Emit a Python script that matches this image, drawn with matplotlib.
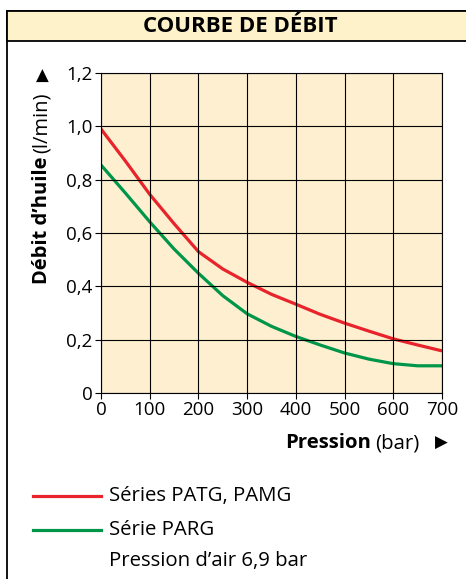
import numpy as np
import matplotlib
matplotlib.use('Agg')
import matplotlib.pyplot as plt
from matplotlib.patches import Rectangle

plt.rcParams['font.family'] = ['Open Sans', 'DejaVu Sans']

# ── Data ──────────────────────────────────────────────────
pression = [0, 50, 100, 150, 200, 250, 300, 350, 400, 450, 500, 550, 600, 650, 700]
debit_patg = [0.99, 0.87, 0.745, 0.635, 0.53, 0.465, 0.415, 0.37, 0.333, 0.295, 0.262, 0.232, 0.203, 0.18, 0.158]
debit_parg = [0.855, 0.75, 0.642, 0.54, 0.449, 0.365, 0.297, 0.25, 0.212, 0.18, 0.150, 0.127, 0.110, 0.102, 0.102]
x_ticks = [0, 100, 200, 300, 400, 500, 600, 700]
y_ticks = [0, 0.2, 0.4, 0.6, 0.8, 1.0, 1.2]
y_labels = ['0', '0,2', '0,4', '0,6', '0,8', '1,0', '1,2']

RED = '#E8232B'
GREEN = '#00964A'
BG = '#FDEFCF'
HEAD = '#FEF2CB'
FS = 14.7

W, H = 466, 579
fig = plt.figure(figsize=(W / 100, H / 100), dpi=100)

def fx(px):
    return px / W

def fy(py):
    return 1 - py / H

# outer frame + header band
fig.patches.append(Rectangle((fx(7), fy(600)), fx(470) - fx(7), fy(11) - fy(600),
                             transform=fig.transFigure, fill=False, ec='black', lw=1.3))
fig.patches.append(Rectangle((fx(7), fy(41)), fx(470) - fx(7), fy(11) - fy(41),
                             transform=fig.transFigure, fc=HEAD, ec='black', lw=1.3))
fig.text(fx(240), fy(27), 'COURBE DE DÉBIT', ha='center', va='center',
         fontsize=16, fontweight='bold')

# ── Plot area ─────────────────────────────────────────────
ax = fig.add_axes([fx(101), fy(393), fx(442) - fx(101), fy(73) - fy(393)])
ax.set_facecolor(BG)
ax.plot(pression, debit_patg, color=RED, lw=2.3, solid_capstyle='butt')
ax.plot(pression, debit_parg, color=GREEN, lw=2.3, solid_capstyle='butt')
ax.set_xlim(0, 700)
ax.set_ylim(0, 1.2)
ax.set_xticks(x_ticks)
ax.set_yticks(y_ticks)
ax.set_yticklabels(y_labels)
ax.grid(True, color='black', lw=0.8)
ax.set_axisbelow(False)
for s in ax.spines.values():
    s.set_linewidth(0.8)
ax.tick_params(length=4, width=0.8, labelsize=13.5, pad=2)

# ── Axis labels (bold + regular parts) ────────────────────
fig.canvas.draw()
r = fig.canvas.get_renderer()

# y label: bold part then regular part, whole thing centred on y=188 px
t1 = fig.text(fx(42), 0.5, "Débit d’huile", rotation=90, ha='center', va='bottom',
              fontsize=14.5, fontweight='bold')
t1b = fig.text(fx(42), 0.5, '(l/min)', rotation=90, ha='center', va='bottom',
               fontsize=14.5)
h1 = t1.get_window_extent(r).height
h2 = t1b.get_window_extent(r).height
gap = 3
y0 = (H - 188) - (h1 + gap + h2) / 2
t1.set_y(y0 / H)
t1b.set_y((y0 + h1 + gap) / H)
fig.text(fx(42), fy(76), '▲', ha='center', va='center', fontsize=12, family='DejaVu Sans')

t2 = fig.text(fx(285), fy(443), 'Pression', ha='left', va='center',
              fontsize=FS, fontweight='bold')
bb = t2.get_window_extent(r)
fig.text((bb.x1 + 4) / W, fy(443), '(bar)', ha='left', va='center', fontsize=FS)
fig.text(fx(448), fy(443), '▶', ha='right', va='center', fontsize=12, family='DejaVu Sans')

# ── Legend ────────────────────────────────────────────────
fig.add_artist(plt.Line2D([fx(33), fx(101)], [fy(496), fy(496)], color=RED, lw=2.3,
                          transform=fig.transFigure))
fig.add_artist(plt.Line2D([fx(33), fx(101)], [fy(530), fy(530)], color=GREEN, lw=2.3,
                          transform=fig.transFigure))
fig.text(fx(109), fy(496), 'Séries PATG, PAMG', ha='left', va='center', fontsize=FS)
fig.text(fx(109), fy(530), 'Série PARG', ha='left', va='center', fontsize=FS)
fig.text(fx(109), fy(561), 'Pression d’air 6,9 bar', ha='left', va='center', fontsize=FS)

fig.savefig('out.png', dpi=100, facecolor='white')
